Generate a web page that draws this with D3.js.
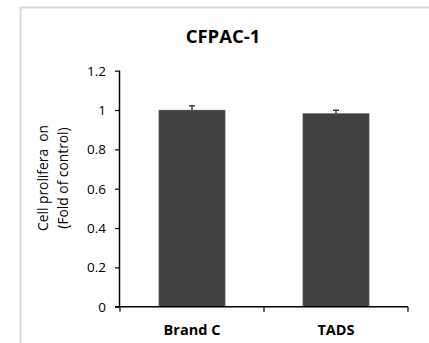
<!DOCTYPE html>
<html><head><meta charset="utf-8">
<script src="https://cdn.jsdelivr.net/npm/d3@7"></script>
<style>body{margin:0;background:#fff;}svg{display:block;}</style>
</head><body>
<svg id="c" width="429" height="343"></svg>
<script>
const categories = ["Brand C", "TADS"];
const values = [1.0, 0.983];
const errors = [0.021, 0.016];
const yTicks = [0, 0.2, 0.4, 0.6, 0.8, 1, 1.2];
const title = "CFPAC-1";
const yLabelLines = ["Cell prolifera\u00a0\u00a0on", "(Fold of control)"];

const svg = d3.select("#c");
const font = "'Open Sans', sans-serif";
// frame
svg.append("rect").attr("x", 20.5).attr("y", 7.5).attr("width", 420).attr("height", 350)
  .attr("fill", "none").attr("stroke", "#d9d9d9").attr("stroke-width", 2);

const x0 = 120, x1 = 408, yTop = 70.7, yBot = 306.7;
const x = d3.scaleBand().domain(categories).range([x0, x1]).paddingInner(0.54).paddingOuter(0.27);
const y = d3.scaleLinear().domain([0, 1.2]).range([yBot, yTop]);

svg.append("text").attr("x", 223).attr("y", 43).attr("text-anchor", "middle")
  .attr("font-family", font).attr("font-weight", "bold").attr("font-size", 18.5).text(title);

// bars
svg.selectAll("rect.bar").data(categories).enter().append("rect")
  .attr("x", d => x(d)).attr("width", x.bandwidth())
  .attr("y", (d, i) => y(values[i])).attr("height", (d, i) => y(0) - y(values[i]))
  .attr("fill", "#404040").attr("stroke", "#7f7f7f").attr("stroke-width", 0.5);

// error bars
const eg = svg.append("g").attr("stroke", "#404040").attr("stroke-width", 1.5);
categories.forEach((d, i) => {
  const cx = x(d) + x.bandwidth() / 2;
  eg.append("line").attr("x1", cx).attr("x2", cx).attr("y1", y(values[i])).attr("y2", y(values[i] + errors[i]));
  eg.append("line").attr("x1", cx - 3).attr("x2", cx + 3).attr("y1", y(values[i] + errors[i])).attr("y2", y(values[i] + errors[i]));
});

// y axis
const ya = svg.append("g").attr("transform", `translate(${x0},0)`)
  .call(d3.axisLeft(y).tickValues(yTicks).tickSize(5).tickPadding(9).tickFormat(d => d));
ya.select(".domain").attr("stroke", "#000").attr("stroke-width", 1.5).attr("d", `M-0.5,${yTop}V${yBot}`);
ya.selectAll(".tick line").attr("stroke", "#000").attr("stroke-width", 1.2);
ya.selectAll(".tick text").attr("font-family", font).attr("font-size", 13.5).attr("fill", "#000");

// x axis
const xa = svg.append("g").attr("transform", `translate(0,${yBot})`);
xa.append("line").attr("x1", x0 - 5).attr("x2", x1).attr("y1", 0).attr("y2", 0).attr("stroke", "#000").attr("stroke-width", 1.5);
const boundaries = [x0, (x(categories[0]) + x.bandwidth() + x(categories[1])) / 2, x1];
boundaries.forEach(b => xa.append("line").attr("x1", b).attr("x2", b).attr("y1", 0).attr("y2", 5).attr("stroke", "#000").attr("stroke-width", 1.2));
categories.forEach(d => xa.append("text").attr("x", x(d) + x.bandwidth() / 2).attr("y", 28.5)
  .attr("text-anchor", "middle").attr("font-family", font).attr("font-weight", "bold").attr("font-size", 14.5).text(d));

// y label
const yl = svg.append("text").attr("transform", "translate(48,178) rotate(-90)")
  .attr("text-anchor", "middle").attr("font-family", font).attr("font-size", 13.8);
yl.append("tspan").attr("x", 0).attr("dy", 0).text(yLabelLines[0]);
yl.append("tspan").attr("x", 0).attr("dy", 20).text(yLabelLines[1]);
</script>
</body></html>
